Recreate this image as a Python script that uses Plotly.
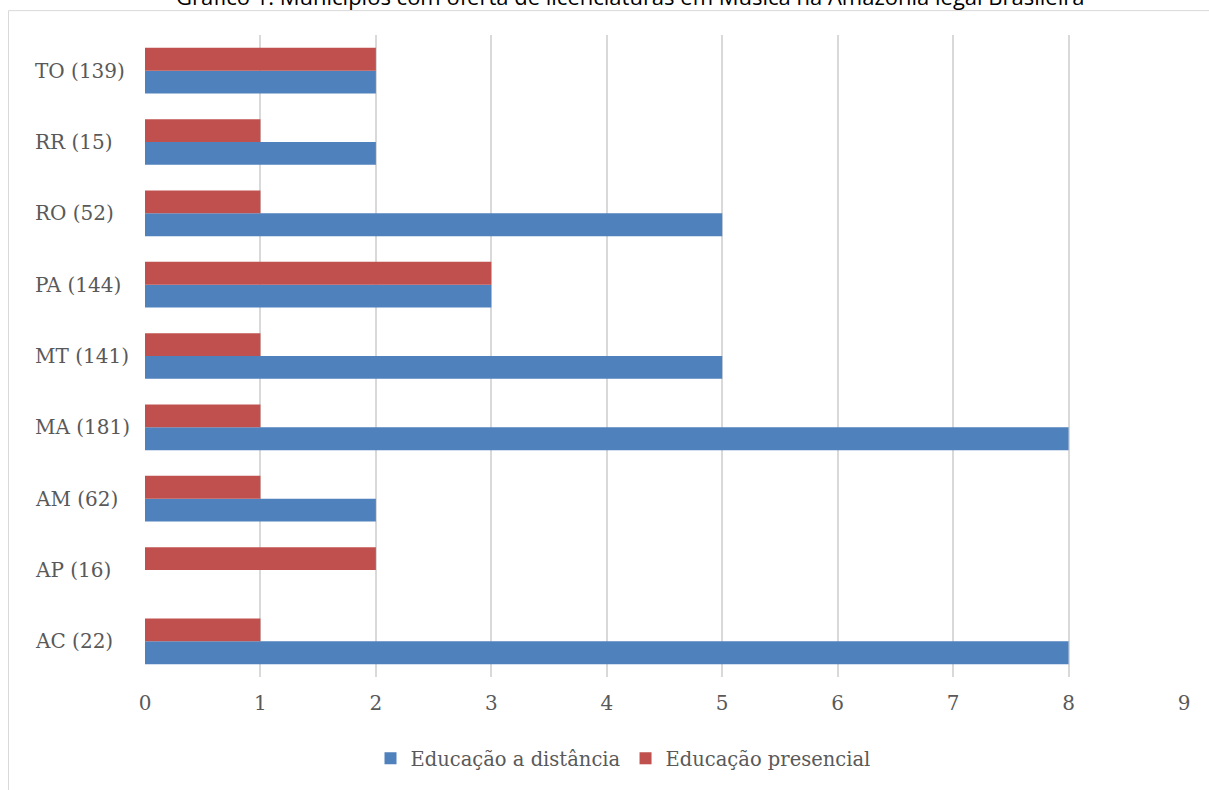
import plotly.graph_objects as go

categories = ["AC (22)", "AP (16)", "AM (62)", "MA (181)", "MT (141)", "PA (144)", "RO (52)", "RR (15)", "TO (139)"]
distancia = [8, 0, 2, 8, 5, 3, 5, 2, 2]
presencial = [1, 2, 1, 1, 1, 3, 1, 1, 2]
x_ticks = [0, 1, 2, 3, 4, 5, 6, 7, 8, 9]
title_text = "Gráfico 1: Municípios com oferta de licenciaturas em Música na Amazônia legal Brasileira"

W, H = 1209, 790
L, R, T, B = 145, 25, 35, 110
pw, ph = W - L - R, H - T - B

def px_to_paper_x(px):
    return (px - L) / pw

def px_to_paper_y(py):
    return (H - B - py) / ph

FONT = "DejaVu Serif"
GRAY = "#595959"

fig = go.Figure()
fig.add_trace(go.Bar(y=categories, x=distancia, orientation="h", name="Educação a distância",
                     marker=dict(color="#4F81BD", line=dict(width=0))))
fig.add_trace(go.Bar(y=categories, x=presencial, orientation="h", name="Educação presencial",
                     marker=dict(color="#C0504D", line=dict(width=0))))

annotations = []
for c in categories:
    annotations.append(dict(x=px_to_paper_x(33), xref="paper", y=c, yref="y", text=c,
                            showarrow=False, xanchor="left", yanchor="middle",
                            font=dict(family=FONT, size=20, color=GRAY)))
annotations.append(dict(x=px_to_paper_x(630), xref="paper", y=px_to_paper_y(13), yref="paper",
                        text=title_text, showarrow=False, xanchor="center", yanchor="bottom",
                        font=dict(family="Open Sans", size=22, color="#000000")))

fig.update_layout(
    width=W, height=H,
    margin=dict(l=L, r=R, t=T, b=B),
    paper_bgcolor="white", plot_bgcolor="white",
    barmode="group", bargap=0.36, bargroupgap=0,
    font=dict(family=FONT, size=16, color=GRAY),
    xaxis=dict(range=[0, 9], tickvals=x_ticks, showgrid=True, gridcolor="#D9D9D9", gridwidth=1.5,
               zeroline=False, showline=False, ticks="", ticklabelstandoff=12,
               tickfont=dict(family=FONT, size=20, color=GRAY)),
    yaxis=dict(categoryorder="array", categoryarray=categories, showticklabels=False,
               showgrid=False, zeroline=False, showline=False, range=[-0.5, 8.5]),
    legend=dict(orientation="h", x=px_to_paper_x(623), xanchor="center", y=px_to_paper_y(762),
                yanchor="middle", font=dict(family=FONT, size=19.5, color=GRAY),
                itemwidth=30, traceorder="normal"),
    annotations=annotations,
    shapes=[dict(type="rect", xref="paper", yref="paper",
                 x0=px_to_paper_x(8.5), x1=px_to_paper_x(1250),
                 y0=px_to_paper_y(850), y1=px_to_paper_y(10.5),
                 line=dict(color="#D9D9D9", width=1), fillcolor="rgba(0,0,0,0)", layer="below")],
    showlegend=True,
)

fig.write_html("out.html")
